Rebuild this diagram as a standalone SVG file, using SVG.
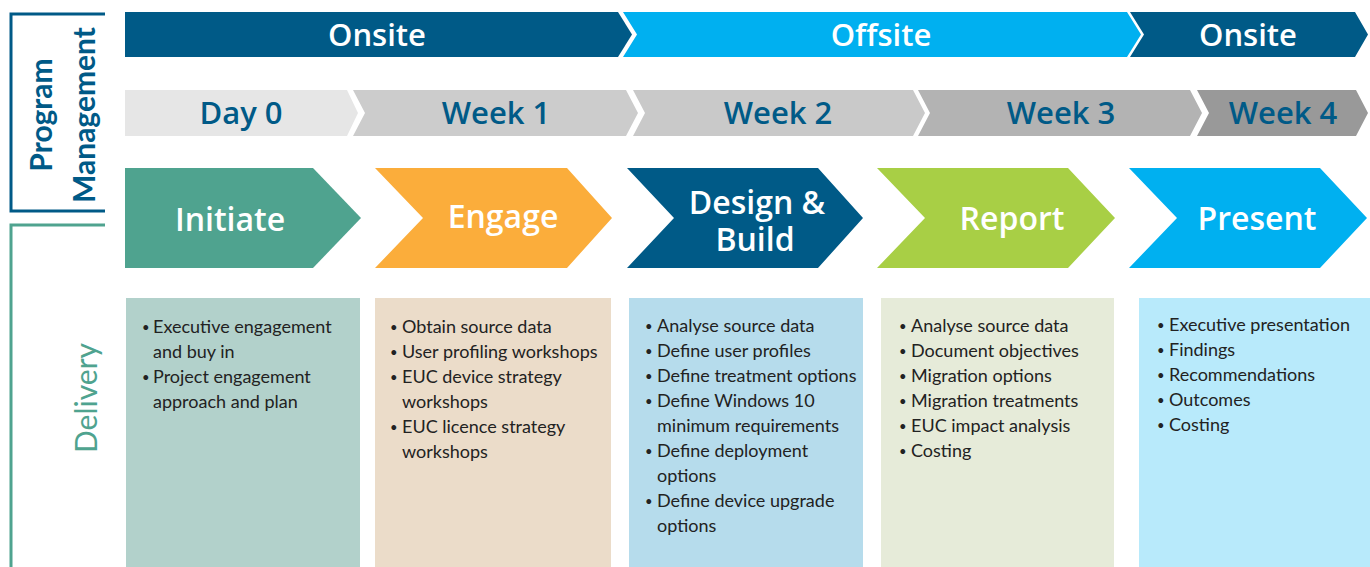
<svg xmlns="http://www.w3.org/2000/svg" width="1370" height="567" viewBox="0 0 1370 567">
<style>
.ban{font-family:"Open Sans","Liberation Sans",sans-serif;font-size:31px;font-weight:600;fill:#ffffff;text-anchor:middle}
.wk{font-family:"Open Sans","Liberation Sans",sans-serif;font-size:31px;font-weight:600;fill:#005a87;text-anchor:middle}
.ph{font-family:"Open Sans","Liberation Sans",sans-serif;font-size:32px;font-weight:600;fill:#ffffff;text-anchor:middle}
.body{font-family:Lato,"Liberation Sans",sans-serif;font-size:18px;fill:#222222}
.bul{font-family:Lato,"Liberation Sans",sans-serif;font-size:13px;fill:#222222}
.side{font-family:Lato,"Liberation Sans",sans-serif;font-size:30px;text-anchor:middle}
</style>
<rect width="1370" height="567" fill="#ffffff"/>
<g id="side-labels">
<path d="M105,14 H11 V211 H105" fill="none" stroke="#005a87" stroke-width="3"/>
<path d="M105,225 H11 V567" fill="none" stroke="#4fa38f" stroke-width="3"/>
<text class="side" transform="translate(52,115) rotate(-90)" font-weight="bold" fill="#005a87">Program</text>
<text class="side" transform="translate(95,115) rotate(-90)" font-weight="bold" fill="#005a87">Management</text>
<text class="side" transform="translate(97,398) rotate(-90)" fill="#4fa38f">Delivery</text>
</g>
<g id="banner-onsite-1">
<polygon points="125,12 618,12 632,34.5 618,57 125,57" fill="#005a87"/>
<text class="ban" x="377" y="46">Onsite</text>
</g>
<g id="banner-offsite">
<polygon points="623,12 1127,12 1141,34.5 1127,57 623,57 637,34.5" fill="#00b0f0"/>
<text class="ban" x="881" y="46">Offsite</text>
</g>
<g id="banner-onsite-2">
<polygon points="1130,12 1355,12 1368,34.5 1355,57 1130,57 1144,34.5" fill="#005a87"/>
<text class="ban" x="1248" y="46">Onsite</text>
</g>
<g id="day0">
<polygon points="125,90 347,90 358,113 347,136 125,136" fill="#e6e6e6"/>
<text class="wk" x="241" y="124">Day 0</text>
</g>
<g id="week1">
<polygon points="353,90 626,90 638,113 626,136 353,136 365,113" fill="#cccccc"/>
<text class="wk" x="496" y="124">Week 1</text>
</g>
<g id="week2">
<polygon points="633,90 913,90 925,113 913,136 633,136 645,113" fill="#c9c9c9"/>
<text class="wk" x="778" y="124">Week 2</text>
</g>
<g id="week3">
<polygon points="918,90 1190,90 1202,113 1190,136 918,136 930,113" fill="#b3b3b3"/>
<text class="wk" x="1061" y="124">Week 3</text>
</g>
<g id="week4">
<polygon points="1197,90 1356,90 1368,113 1356,136 1197,136 1209,113" fill="#999999"/>
<text class="wk" x="1283" y="124">Week 4</text>
</g>
<g id="initiate">
<polygon points="125,168 313,168 361,218 313,268 125,268" fill="#4fa38f"/>
<text class="ph" x="230" y="231">Initiate</text>
</g>
<g id="engage">
<polygon points="375,168 567,168 612,218 567,268 375,268 423,218" fill="#fbad3b"/>
<text class="ph" x="503" y="228">Engage</text>
</g>
<g id="design-build">
<polygon points="627,168 818,168 863,218 818,268 627,268 674,218" fill="#005a87"/>
<text class="ph" x="757" y="214">Design &amp;</text>
<text class="ph" x="755" y="251">Build</text>
</g>
<g id="report">
<polygon points="877,168 1068,168 1115,218 1068,268 877,268 925,218" fill="#a8cf45"/>
<text class="ph" x="1012" y="230">Report</text>
</g>
<g id="present">
<polygon points="1129,168 1320,168 1367,218 1320,268 1129,268 1177,218" fill="#00b0f0"/>
<text class="ph" x="1257" y="230">Present</text>
</g>
<g id="box-initiate">
<rect x="126" y="298" width="234" height="269" fill="#b2d1cb"/>
<text class="bul" x="142" y="332">•</text><text class="body" x="153" y="333">Executive engagement</text>
<text class="body" x="153" y="358">and buy in</text>
<text class="bul" x="142" y="382">•</text><text class="body" x="153" y="383">Project engagement</text>
<text class="body" x="153" y="408">approach and plan</text>
</g>
<g id="box-engage">
<rect x="375" y="298" width="236" height="269" fill="#ebdcc9"/>
<text class="bul" x="390" y="332">•</text><text class="body" x="402" y="333">Obtain source data</text>
<text class="bul" x="390" y="357">•</text><text class="body" x="402" y="358">User profiling workshops</text>
<text class="bul" x="390" y="382">•</text><text class="body" x="402" y="383">EUC device strategy</text>
<text class="body" x="402" y="408">workshops</text>
<text class="bul" x="390" y="432">•</text><text class="body" x="402" y="433">EUC licence strategy</text>
<text class="body" x="402" y="458">workshops</text>
</g>
<g id="box-design-build">
<rect x="629" y="298" width="234" height="269" fill="#b6dcec"/>
<text class="bul" x="645" y="331">•</text><text class="body" x="657" y="332">Analyse source data</text>
<text class="bul" x="645" y="356">•</text><text class="body" x="657" y="357">Define user profiles</text>
<text class="bul" x="645" y="381">•</text><text class="body" x="657" y="382">Define treatment options</text>
<text class="bul" x="645" y="406">•</text><text class="body" x="657" y="407">Define Windows 10</text>
<text class="body" x="657" y="432">minimum requirements</text>
<text class="bul" x="645" y="456">•</text><text class="body" x="657" y="457">Define deployment</text>
<text class="body" x="657" y="482">options</text>
<text class="bul" x="645" y="506">•</text><text class="body" x="657" y="507">Define device upgrade</text>
<text class="body" x="657" y="532">options</text>
</g>
<g id="box-report">
<rect x="881" y="298" width="233" height="269" fill="#e6ebd9"/>
<text class="bul" x="899" y="331">•</text><text class="body" x="911" y="332">Analyse source data</text>
<text class="bul" x="899" y="356">•</text><text class="body" x="911" y="357">Document objectives</text>
<text class="bul" x="899" y="381">•</text><text class="body" x="911" y="382">Migration options</text>
<text class="bul" x="899" y="406">•</text><text class="body" x="911" y="407">Migration treatments</text>
<text class="bul" x="899" y="431">•</text><text class="body" x="911" y="432">EUC impact analysis</text>
<text class="bul" x="899" y="456">•</text><text class="body" x="911" y="457">Costing</text>
</g>
<g id="box-present">
<rect x="1139" y="298" width="231" height="269" fill="#b8eafb"/>
<text class="bul" x="1157" y="330">•</text><text class="body" x="1169" y="331">Executive presentation</text>
<text class="bul" x="1157" y="355">•</text><text class="body" x="1169" y="356">Findings</text>
<text class="bul" x="1157" y="380">•</text><text class="body" x="1169" y="381">Recommendations</text>
<text class="bul" x="1157" y="405">•</text><text class="body" x="1169" y="406">Outcomes</text>
<text class="bul" x="1157" y="430">•</text><text class="body" x="1169" y="431">Costing</text>
</g>
<g id="connectors"></g>
</svg>
